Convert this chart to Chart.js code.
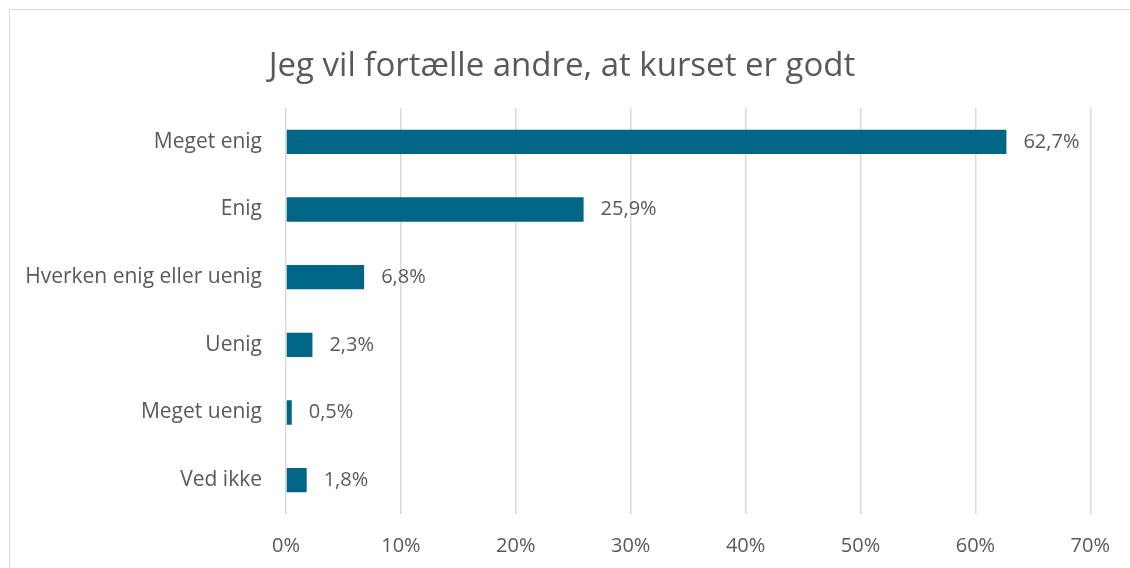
<!DOCTYPE html>
<html><head><meta charset="utf-8">
<script src="https://cdn.jsdelivr.net/npm/chart.js@4"></script>
<style>html,body{margin:0;padding:0;background:#fff}#wrap{width:1130px;height:568px}</style>
</head><body><div id="wrap"><canvas id="c" width="1130" height="568"></canvas></div>
<script>
const categories = ["Meget enig","Enig","Hverken enig eller uenig","Uenig","Meget uenig","Ved ikke"];
const values = [62.7,25.9,6.8,2.3,0.5,1.8];
const xTicks = [0,10,20,30,40,50,60,70];
const title = "Jeg vil fortælle andre, at kurset er godt";
const FONT = "'Open Sans', sans-serif";
const TXT = "#595959";

const frame = {id:'frame', beforeDraw(ch){const c=ch.ctx;c.save();c.strokeStyle='#d9d9d9';c.lineWidth=1;c.strokeRect(9.5,9.5,1200,700);
  c.fillStyle=TXT;c.font="33px "+FONT;c.textAlign='center';c.textBaseline='alphabetic';c.fillText(title,562,76);c.restore();}};
const labels = {id:'dl', afterDatasetsDraw(ch){const c=ch.ctx;c.save();c.fillStyle=TXT;c.font="20px "+FONT;c.textAlign='left';c.textBaseline='middle';
  ch.getDatasetMeta(0).data.forEach((b,i)=>{c.fillText(values[i].toFixed(1).replace('.',',')+'%',b.x+17,b.y);});c.restore();}};

new Chart(document.getElementById('c'),{
  type:'bar',
  data:{labels:categories,datasets:[{data:values,backgroundColor:'#006687',barPercentage:0.36,categoryPercentage:1}]},
  options:{indexAxis:'y',responsive:false,animation:false,
    layout:{padding:{top:108,right:37,left:0,bottom:0}},
    plugins:{legend:{display:false},tooltip:{enabled:false},title:{display:false}},
    scales:{
      x:{min:0,max:70,afterBuildTicks(s){s.ticks=xTicks.map(v=>({value:v}));},
        afterFit(s){s.height=54;},
        grid:{color:'#d9d9d9',lineWidth:1.5,drawTicks:false},border:{display:false},
        ticks:{padding:20,color:TXT,font:{family:FONT,size:20},callback:v=>v+'%'}},
      y:{afterFit(s){s.width=286;},grid:{display:false,drawTicks:false},border:{display:false},
        ticks:{padding:24,color:TXT,font:{family:FONT,size:21}}}
    }},
  plugins:[frame,labels]
});
</script></body></html>
